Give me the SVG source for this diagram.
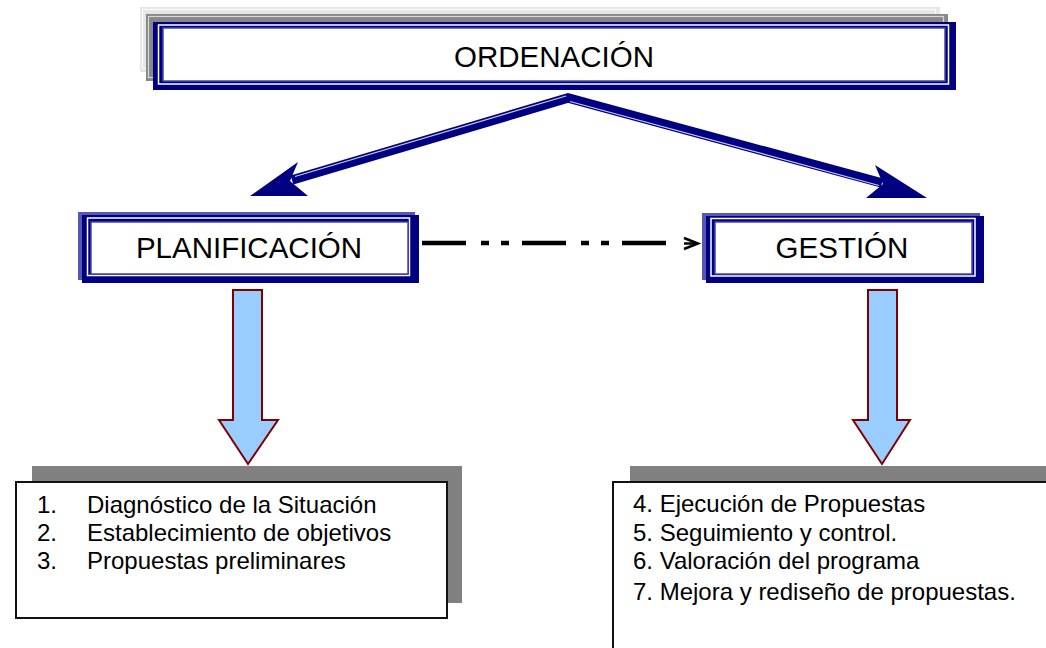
<svg xmlns="http://www.w3.org/2000/svg" width="1046" height="648" viewBox="0 0 1046 648">
<style>
.t{font-family:"Liberation Sans",Arial,sans-serif;fill:#000}
.h{font-size:29.5px}
.l{font-size:24px}
.navy{fill:#000080}
.slate{fill:#5656b4}
.wl{fill:none;stroke:#fff;stroke-width:1.5}
.inner{fill:#fff;stroke:#4646aa;stroke-width:1.5}
.blk{fill:#99ccff;stroke:#800000;stroke-width:2;stroke-linejoin:miter}
.box{fill:#fff;stroke:#111;stroke-width:2}
.shadow{fill:#808080}
</style>
<rect width="1046" height="648" fill="#fff"/>

<g id="ordenacion">
  <rect x="140" y="7" width="800" height="65" fill="#e6e6e6"/>
  <rect x="142.5" y="9.5" width="793" height="59" fill="none" stroke="#fafafa" stroke-width="1.2"/>
  <rect x="146" y="14" width="802" height="67" fill="#888"/>
  <rect x="148.5" y="16.5" width="795" height="61" fill="none" stroke="#d8d8d8" stroke-width="1.2"/>
  <rect x="153" y="22" width="803" height="68" class="navy"/>
  <rect x="158.5" y="25" width="790" height="59" class="wl"/>
  <rect x="163" y="28" width="782" height="53" class="inner"/>
  <text x="554" y="67" text-anchor="middle" class="t h">ORDENACIÓN</text>
</g>

<g id="planificacion">
  <rect x="78" y="212" width="337" height="68" class="slate"/>
  <rect x="82" y="215" width="337" height="68" class="navy"/>
  <rect x="87.5" y="218" width="322" height="57.5" class="wl"/>
  <rect x="91" y="222" width="317" height="52" class="inner"/>
  <text x="249" y="258" text-anchor="middle" class="t h">PLANIFICACIÓN</text>
</g>

<g id="gestion">
  <rect x="702" y="213" width="278" height="67" class="slate"/>
  <rect x="706" y="216" width="278" height="67" class="navy"/>
  <rect x="711" y="218.5" width="264" height="57.5" class="wl"/>
  <rect x="715" y="222" width="257" height="52" class="inner"/>
  <text x="842" y="258" text-anchor="middle" class="t h">GESTIÓN</text>
</g>

<g id="lista-planificacion">
  <rect x="32" y="466" width="430" height="137" class="shadow"/>
  <rect x="16" y="482" width="431" height="136" class="box"/>
  <text class="t l"><tspan x="37" y="513">1.</tspan><tspan x="87" y="513">Diagnóstico de la Situación</tspan></text>
  <text class="t l"><tspan x="37" y="541">2.</tspan><tspan x="87" y="541">Establecimiento de objetivos</tspan></text>
  <text class="t l"><tspan x="37" y="569">3.</tspan><tspan x="87" y="569">Propuestas preliminares</tspan></text>
</g>

<g id="lista-gestion">
  <rect x="630" y="466" width="420" height="60" class="shadow"/>
  <rect x="613" y="482" width="445" height="200" class="box"/>
  <text x="633" y="512" class="t l">4. Ejecución de Propuestas</text>
  <text x="633" y="541" class="t l">5. Seguimiento y control.</text>
  <text x="633" y="569" class="t l">6. Valoración del programa</text>
  <text x="633" y="600" class="t l">7. Mejora y rediseño de propuestas.</text>
</g>

<g id="connectors">
  <path d="M292,180 L568,98 L882,183" fill="none" stroke="#000080" stroke-width="9.5" stroke-linejoin="miter"/>
  <path d="M295,176.5 L566,96" fill="none" stroke="#c8c8ee" stroke-width="1.2"/>
  <path d="M570,101.5 L879,185.5" fill="none" stroke="#c8c8ee" stroke-width="1.2"/>
  <polygon points="250,196 298,162 290,181 308,196" fill="#000080"/>
  <polygon points="927,198 875,165 883,184 866,198" fill="#000080"/>

  <line x1="422" y1="243" x2="667" y2="243" stroke="#000" stroke-width="4.5" stroke-dasharray="44 15 8 12 8 13"/>
  <path d="M684,238 L698,243.5 L684,249" fill="none" stroke="#000" stroke-width="2.5"/>
  <line x1="684" y1="243.5" x2="696" y2="243.5" stroke="#000" stroke-width="2.5"/>

  <polygon points="233,290 262,290 262,420 278,420 248,464 219,420 233,420" class="blk"/>
  <polygon points="868,290 897,290 897,420 910,420 882,464 853,420 868,420" class="blk"/>
</g>
</svg>
